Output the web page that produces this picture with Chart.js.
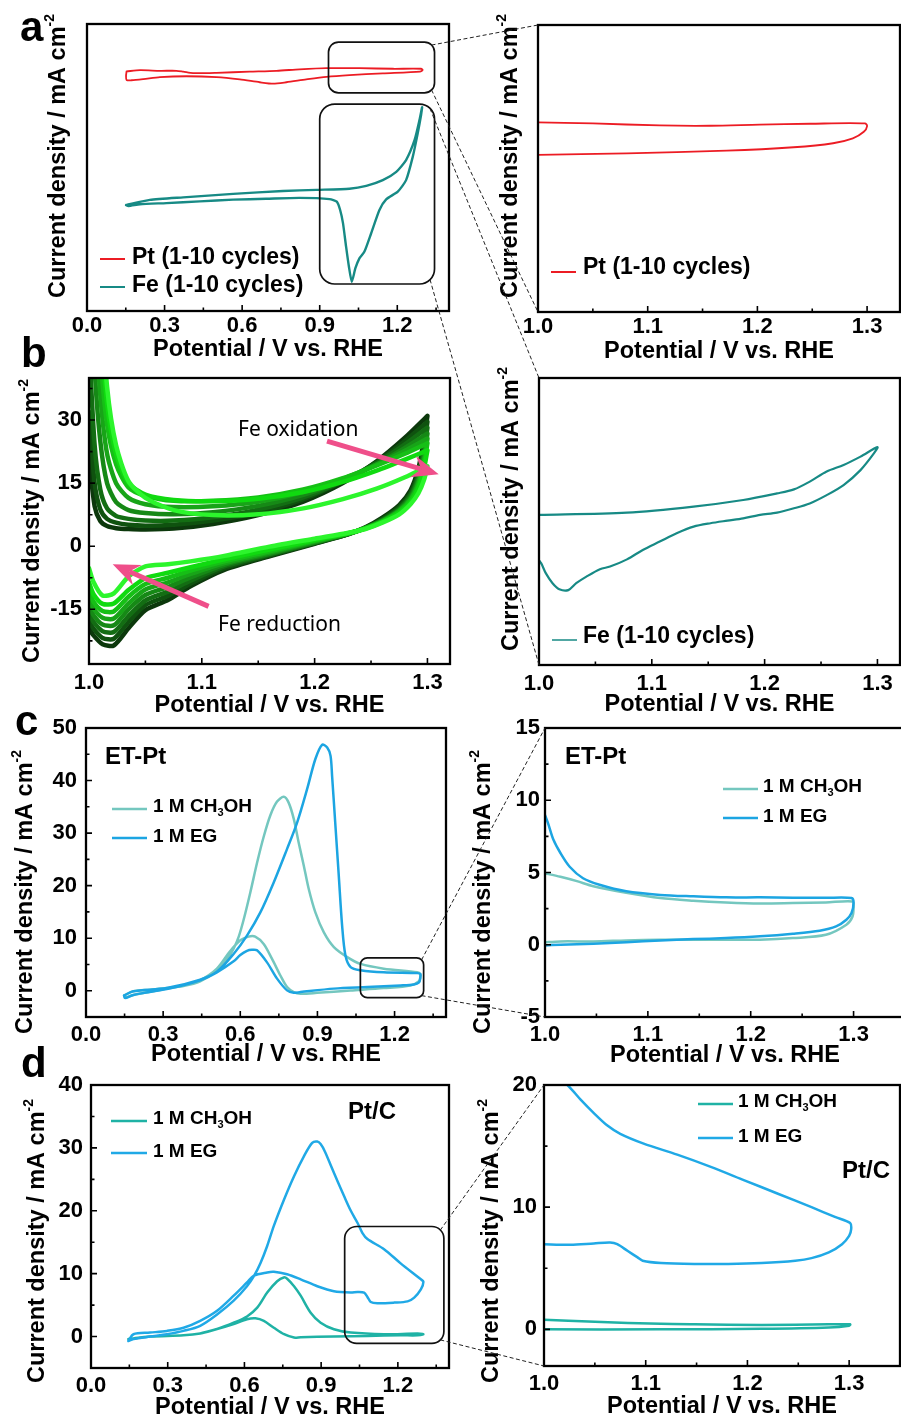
<!DOCTYPE html>
<html><head><meta charset="utf-8">
<script src="https://cdn.jsdelivr.net/npm/chart.js@4.4.1/dist/chart.umd.min.js"></script>
<style>
html,body{margin:0;padding:0;background:#fff;overflow:hidden;width:901px;height:1421px;position:relative;}
canvas{position:absolute;left:0;top:0;}
</style></head><body>
<canvas id="cA1" width="920" height="1421"></canvas>
<canvas id="cA2" width="920" height="1421"></canvas>
<canvas id="cB1" width="920" height="1421"></canvas>
<canvas id="cB2" width="920" height="1421"></canvas>
<canvas id="cC1" width="920" height="1421"></canvas>
<canvas id="cC2" width="920" height="1421"></canvas>
<canvas id="cD1" width="920" height="1421"></canvas>
<canvas id="cD2" width="920" height="1421"></canvas>
<canvas id="overlay" width="920" height="1421"></canvas>
<script>
// ---------------- DATA ----------------
// Panel a (left): CVs, arbitrary current units (no y tick labels)
const aPtV = [0.153,0.205,0.282,0.346,0.372,0.41,0.501,0.629,0.733,0.822,0.926,1.054,1.183,1.292,1.298,1.288,1.144,1.015,0.926,0.848,0.771,0.72,0.668,0.591,0.501,0.385,0.282,0.218,0.172,0.153,0.151,0.153];
const aPtJ = [83.5,83.9,83.7,83.7,83.4,82.9,83.0,83.4,83.7,84.2,84.6,84.6,84.4,84.4,84.0,83.4,82.8,82.2,81.6,80.7,79.7,79.2,79.7,80.7,81.5,81.8,81.5,80.8,80.4,80.5,81.9,83.5];
const aFeV = [0.151,0.243,0.372,0.565,0.758,0.887,1.015,1.080,1.144,1.196,1.234,1.267,1.286,1.296,1.292,1.279,1.260,1.234,1.202,1.157,1.131,1.099,1.073,1.054,1.038,1.024,1.013,1.002,0.990,0.979,0.966,0.938,0.822,0.693,0.565,0.436,0.307,0.205,0.160,0.151];
const aFeJ = [36.9,38.7,39.6,40.8,41.8,42.2,42.6,43.6,45.6,48.5,52.6,59.6,66.6,71.0,68.3,61.9,53.8,45.6,41.6,38.9,35.2,27.1,20.7,18.4,14.9,10.2,15.4,22.4,30.6,35.2,38.1,39.0,39.4,39.1,38.8,38.2,37.6,37.2,36.6,36.9];
// Panel a (right): Pt zoom
const aZPtV = [0.998,1.081,1.172,1.233,1.269,1.287,1.297,1.300,1.298,1.248,1.202,1.157,1.111,1.050,0.998];
const aZPtJ = [54.7,55.3,56.2,57.4,58.8,60.5,62.8,64.8,65.7,65.6,65.3,64.9,65.0,65.7,66.1];
// Panel b (right): Fe zoom
const bZFeV = [0.998,1.078,1.137,1.181,1.211,1.226,1.240,1.255,1.270,1.285,1.300,1.297,1.285,1.270,1.255,1.240,1.226,1.211,1.196,1.181,1.167,1.152,1.137,1.122,1.107,1.092,1.078,1.063,1.054,1.042,1.033,1.026,1.018,1.012,1.006,1.002,0.998];
const bZFeJ = [52.3,53.1,55.2,57.5,59.8,61.2,63.9,67.4,69.7,72.6,75.9,73.8,67.9,62.7,59.2,56.3,54.6,53.1,52.3,51.1,50.3,49.4,48.2,45.9,43.0,40.1,36.8,34.3,33.4,30.8,28.5,26.1,26.4,28.5,32.0,35.4,37.6];
// Panel b (left): multi-cycle CVs (dark = early cycles, bright = late cycles)
const bFwdV = [1.000,1.005,1.010,1.016,1.024,1.035,1.05,1.075,1.11,1.15,1.19,1.225,1.255,1.28,1.30];
const bRevV = [1.30,1.297,1.292,1.285,1.275,1.26,1.245,1.23,1.20,1.16,1.12,1.09,1.07,1.05,1.035,1.022,1.012,1.004,1.000];
const bFwdJ = [
  [21,9.5,6.0,4.8,4.3,4.1,4.0,4.2,5.3,7.4,10.6,15.0,20.2,25.8,31.0],
  [32,15,8.8,6.5,5.6,5.1,4.9,5.1,6.1,8.0,11.2,15.4,20.0,25.0,29.6],
  [48,24,13.5,9.0,7.2,6.5,6.1,6.1,6.9,8.7,11.6,15.5,19.8,24.2,28.2],
  [70,42,25,15,10.5,8.6,7.9,7.6,8.1,9.6,12.2,15.7,19.5,23.4,26.8],
  [90,58,36,22,15,11.5,10,9.3,9.5,10.6,12.9,16.0,19.4,22.7,25.6],
  [110,72,46,29,19.5,14,12,10.8,10.8,11.6,13.5,16.2,19.2,22.0,24.5],
  [125,85,55,34,22,15,12.3,11.0,10.7,11.3,12.9,15.3,18.0,20.6,22.8],
  [140,95,62,38,24,15.5,11.5,8.6,7.4,7.6,9.0,11.2,13.7,16.4,19.0]
];
const bRevJ = [
  [31.0,25.5,18.5,13.3,9.8,6.8,4.5,2.9,0.6,-2.4,-5.6,-9.5,-12.8,-15.2,-19.5,-23.6,-23.3,-21.2,-19.5],
  [29.6,24.2,17.6,12.7,9.4,6.5,4.4,2.9,0.7,-2.2,-5.2,-8.9,-11.8,-14.0,-18.0,-22.0,-21.8,-19.6,-17.8],
  [28.2,23.0,16.8,12.2,9.0,6.3,4.3,2.9,0.8,-2.0,-4.8,-8.2,-10.8,-12.9,-16.6,-20.4,-20.2,-18.0,-16.0],
  [26.8,21.8,16.0,11.7,8.7,6.1,4.3,3.0,0.9,-1.8,-4.4,-7.4,-9.7,-11.6,-15.0,-18.8,-18.6,-16.4,-14.2],
  [25.6,20.8,15.3,11.3,8.5,6.0,4.3,3.0,1.1,-1.5,-4.0,-6.6,-8.6,-10.3,-13.6,-17.2,-17.0,-14.8,-12.5],
  [24.5,19.8,14.7,11.0,8.3,5.9,4.3,3.1,1.3,-1.2,-3.6,-5.8,-7.5,-9.0,-12.0,-15.5,-15.4,-13.2,-10.6],
  [22.8,18.5,13.8,10.4,8.0,5.8,4.2,3.1,1.5,-0.8,-3.1,-5.0,-6.3,-7.6,-10.4,-13.6,-13.7,-11.4,-8.6],
  [19.0,15.8,12.6,10.0,7.6,5.6,4.1,3.2,1.8,-0.1,-2.3,-3.6,-4.3,-4.8,-7.2,-11.2,-11.7,-8.5,-5.2]
];
const bCycleColors = ['#0c380c','#0f520f','#136d13','#168916','#18a418','#16bf16','#10da10','#2cf52c'];
// Panel c (left): ET-Pt
const cMeV = [0.148,0.184,0.249,0.314,0.379,0.444,0.509,0.548,0.574,0.594,0.613,0.639,0.665,0.691,0.717,0.743,0.769,0.788,0.808,0.827,0.847,0.866,0.892,0.925,0.964,1.016,1.068,1.158,1.288,1.300,1.300,1.295,1.262,1.158,1.029,0.899,0.834,0.808,0.782,0.756,0.723,0.691,0.658,0.632,0.600,0.560,0.509,0.444,0.379,0.314,0.249,0.184,0.152,0.148];
const cMeJ = [-0.9,-0.1,0.2,0.5,0.9,1.8,3.8,5.9,8.0,10.3,13.5,18.7,24.3,29.3,33.4,36.0,36.9,35.8,32.7,28.2,23.8,19.4,14.9,11.1,8.3,6.4,5.1,4.2,3.5,3.2,2.6,1.8,1.0,0.5,0.06,-0.4,-0.57,-0.25,0.7,2.9,6.1,8.9,10.3,10.3,9.6,7.5,4.2,2.0,1.0,0.4,-0.2,-0.8,-1.3,-0.9];
const cEgV = [0.148,0.184,0.314,0.444,0.509,0.574,0.626,0.678,0.730,0.782,0.821,0.860,0.892,0.918,0.938,0.951,0.957,0.970,0.983,0.996,1.009,1.029,1.068,1.158,1.288,1.300,1.300,1.295,1.275,1.223,1.094,0.964,0.834,0.808,0.782,0.743,0.704,0.665,0.645,0.626,0.600,0.574,0.509,0.444,0.314,0.184,0.152,0.148];
const cEgJ = [-0.9,-0.1,0.5,2.1,3.6,7.0,10.5,14.9,20.6,27.0,32.0,38.4,44.1,46.8,46.3,44.7,40.9,31.4,21.9,12.4,6.7,4.5,3.9,3.5,3.35,3.2,2.4,1.6,1.2,1.0,0.7,0.4,-0.25,-0.4,0.06,2.3,5.4,7.7,7.8,7.6,6.8,5.6,3.5,2.0,0.3,-0.8,-1.4,-0.9];
// Panel c (right): zoom
const cZMeV = [0.998,1.015,1.031,1.047,1.079,1.112,1.144,1.176,1.209,1.241,1.273,1.299,1.300,1.299,1.293,1.273,1.241,1.209,1.176,1.144,1.112,1.079,1.047,1.015,0.998];
const cZMeJ = [4.97,4.7,4.4,4.05,3.6,3.23,3.05,2.93,2.86,2.89,2.93,3.0,2.66,1.96,1.39,0.69,0.46,0.35,0.35,0.35,0.35,0.3,0.23,0.23,0.16];
const cZEgV = [0.998,1.003,1.008,1.015,1.024,1.037,1.053,1.079,1.112,1.144,1.176,1.209,1.241,1.273,1.298,1.300,1.298,1.293,1.283,1.267,1.241,1.209,1.176,1.144,1.112,1.079,1.047,1.015,0.998];
const cZEgJ = [9.35,8.4,7.3,6.35,5.4,4.6,4.15,3.7,3.45,3.35,3.28,3.28,3.26,3.25,3.23,2.9,2.2,1.73,1.27,0.97,0.76,0.58,0.46,0.39,0.3,0.18,0.07,0.0,-0.05];
// Panel d (left): Pt/C
const dMeV = [0.146,0.231,0.362,0.427,0.493,0.558,0.610,0.650,0.689,0.728,0.754,0.767,0.794,0.820,0.859,0.898,0.950,1.016,1.146,1.277,1.300,1.277,1.212,1.081,0.950,0.820,0.794,0.755,0.715,0.676,0.643,0.610,0.558,0.493,0.427,0.362,0.231,0.166,0.146];
const dMeJ = [-0.4,0.0,0.2,0.5,1.2,2.2,3.2,4.6,7.0,8.8,9.4,9.2,8.0,6.5,3.8,2.2,1.16,0.63,0.37,0.48,0.37,0.2,0.2,0.1,0.0,-0.1,-0.16,0.37,1.4,2.5,2.9,2.75,2.0,1.2,0.5,0.2,0.0,-0.3,-0.4];
const dEgV = [0.146,0.166,0.231,0.297,0.362,0.427,0.493,0.558,0.610,0.637,0.663,0.689,0.715,0.755,0.794,0.833,0.865,0.885,0.898,0.915,0.940,0.965,0.990,1.016,1.042,1.061,1.081,1.146,1.212,1.290,1.300,1.290,1.264,1.238,1.186,1.120,1.094,1.081,1.068,1.042,1.016,0.950,0.885,0.820,0.767,0.715,0.689,0.637,0.610,0.558,0.493,0.427,0.362,0.297,0.231,0.166,0.146];
const dEgJ = [-0.7,-0.4,0.0,0.37,0.9,1.7,3.5,5.7,8.0,9.6,11.7,14.4,17.6,21.8,25.5,28.7,30.8,31.0,30.6,29.4,27.0,24.6,22.3,20.0,18.1,16.5,15.5,13.9,11.6,9.1,8.7,7.5,6.2,5.6,5.4,5.3,5.5,6.3,7.0,7.1,7.0,7.2,8.0,9.1,9.9,10.3,10.2,9.7,8.6,6.5,4.1,2.5,1.4,0.9,0.63,0.37,-0.7];
// Panel d (right): zoom
const dZEgV = [1.0,1.023,1.036,1.049,1.062,1.075,1.098,1.131,1.164,1.197,1.23,1.263,1.286,1.301,1.302,1.300,1.293,1.28,1.263,1.247,1.214,1.181,1.148,1.115,1.097,1.092,1.082,1.072,1.065,1.049,1.026,0.998];
const dZEgJ = [21.5,20,18.8,17.7,16.7,16.0,15.2,14.3,13.3,12.2,11.1,10.0,9.2,8.7,8.2,7.65,6.97,6.3,5.83,5.62,5.43,5.35,5.35,5.43,5.62,5.89,6.43,6.97,7.1,7.03,6.92,6.97];
const dZMeV = [0.998,1.05,1.115,1.148,1.214,1.28,1.301,1.300,1.28,1.214,1.115,0.998];
const dZMeJ = [0.79,0.62,0.45,0.41,0.36,0.41,0.41,0.3,0.15,0.04,0.0,0.0];

// Tick values
const xTicksWide = [0,0.3,0.6,0.9,1.2];
const xMinorWide = [0.15,0.45,0.75,1.05,1.35];
const xTicksZoom = [1.0,1.1,1.2,1.3];
const xMinorZoom = [1.05,1.15,1.25];
const bYTicks = [-15,0,15,30];
const bYMinor = [-22.5,-7.5,7.5,22.5,37.5];
const cYTicks = [0,10,20,30,40,50];
const cYMinor = [5,15,25,35,45];
const cZYTicks = [-5,0,5,10,15];
const cZYMinor = [-2.5,2.5,7.5,12.5];
const dYTicks = [0,10,20,30,40];
const dYMinor = [5,15,25,35];
const dZYTicks = [0,10,20];
const dZYMinor = [5,15];

// ---------------- RENDERING ----------------
const CW = 920, CH = 1421;
const FONT = '"Liberation Sans", Arial, Helvetica, sans-serif';
const TITLE_SIZE = 23.5;
const pts = (V, J) => V.map((v, i) => ({x: v, y: J[i]}));
const Y_TITLE = [{t:'Current density / mA cm'},{t:'-2',s:'sup'}];
const RED = '#ec1c24', TEAL = '#178a85';
const C_ME = '#74c7bf', C_EG = '#1ca5e2', D_ME = '#1fb2a5', D_EG = '#20a9e6';

function richWidth(ctx, parts, size, weight, family){
  let w = 0;
  parts.forEach(p => { const fs = p.s ? Math.round(size*0.6) : size; ctx.font = `${weight} ${fs}px ${family}`; w += ctx.measureText(p.t).width; });
  return w;
}
function drawRich(ctx, parts, x, y, size, weight, family, align){
  const w = richWidth(ctx, parts, size, weight, family);
  let cx = align === 'center' ? x - w/2 : x;
  ctx.textBaseline = 'middle'; ctx.textAlign = 'left';
  parts.forEach(p => {
    const fs = p.s ? Math.round(size*0.6) : size;
    ctx.font = `${weight} ${fs}px ${family}`;
    const dy = p.s === 'sub' ? size*0.32 : (p.s === 'sup' ? -size*0.38 : 0);
    ctx.fillText(p.t, cx, y + dy);
    cx += ctx.measureText(p.t).width;
  });
}
function roundRectPath(ctx, x0, y0, x1, y1, r){
  ctx.beginPath();
  ctx.moveTo(x0 + r, y0);
  ctx.arcTo(x1, y0, x1, y1, r);
  ctx.arcTo(x1, y1, x0, y1, r);
  ctx.arcTo(x0, y1, x0, y0, r);
  ctx.arcTo(x0, y0, x1, y0, r);
  ctx.closePath();
}

const framePlugin = {
  id: 'frame',
  afterDatasetsDraw(chart){
    const o = chart.options.plugins.frame || {};
    const a = chart.chartArea, ctx = chart.ctx, xs = chart.scales.x, ys = chart.scales.y;
    ctx.save();
    ctx.strokeStyle = '#000';
    ctx.lineWidth = 1.6;
    ctx.beginPath();
    const tick = (vals, len, axis) => (vals || []).forEach(v => {
      if (axis === 'x') { const p = xs.getPixelForValue(v); ctx.moveTo(p, a.bottom); ctx.lineTo(p, a.bottom - len); }
      else { const p = ys.getPixelForValue(v); ctx.moveTo(a.left, p); ctx.lineTo(a.left + len, p); }
    });
    tick(o.xMajor, 6, 'x'); tick(o.xMinor, 3.5, 'x'); tick(o.yMajor, 6, 'y'); tick(o.yMinor, 3.5, 'y');
    ctx.stroke();
    ctx.lineWidth = 2.3;
    ctx.strokeRect(a.left, a.top, a.right - a.left, a.bottom - a.top);
    ctx.restore();
  }
};

const decoPlugin = {
  id: 'deco',
  afterDraw(chart){
    const o = chart.options.plugins.deco || {};
    const ctx = chart.ctx, xs = chart.scales.x, ys = chart.scales.y;
    ctx.save();
    ctx.fillStyle = '#000';
    chart.$boxes = [];
    (o.boxes || []).forEach(b => {
      const x0 = xs.getPixelForValue(b.x0), x1 = xs.getPixelForValue(b.x1);
      const y0 = ys.getPixelForValue(b.y1), y1 = ys.getPixelForValue(b.y0);
      chart.$boxes.push({x0, x1, y0, y1, r: b.r});
      ctx.strokeStyle = '#111'; ctx.lineWidth = 1.7;
      roundRectPath(ctx, x0, y0, x1, y1, b.r); ctx.stroke();
    });
    (o.arrows || []).forEach(ar => {
      const x0 = xs.getPixelForValue(ar.from[0]), y0 = ys.getPixelForValue(ar.from[1]);
      const x1 = xs.getPixelForValue(ar.to[0]), y1 = ys.getPixelForValue(ar.to[1]);
      const ang = Math.atan2(y1 - y0, x1 - x0), hl = 24, hw = 11;
      const bx = x1 - hl*Math.cos(ang), by = y1 - hl*Math.sin(ang);
      ctx.strokeStyle = ar.color; ctx.fillStyle = ar.color; ctx.lineWidth = 5;
      ctx.beginPath(); ctx.moveTo(x0, y0); ctx.lineTo(bx + 6*Math.cos(ang), by + 6*Math.sin(ang)); ctx.stroke();
      ctx.beginPath();
      ctx.moveTo(x1, y1);
      ctx.lineTo(bx + hw*Math.sin(ang) - 3*Math.cos(ang), by - hw*Math.cos(ang) - 3*Math.sin(ang));
      ctx.lineTo(bx + 6*Math.cos(ang), by + 6*Math.sin(ang));
      ctx.lineTo(bx - hw*Math.sin(ang) - 3*Math.cos(ang), by + hw*Math.cos(ang) - 3*Math.sin(ang));
      ctx.closePath(); ctx.fill();
    });
    (o.legend || []).forEach(l => {
      const ds = chart.data.datasets[l.ds];
      ctx.strokeStyle = ds.borderColor; ctx.lineWidth = l.lw || 2;
      ctx.beginPath(); ctx.moveTo(l.x1, l.y); ctx.lineTo(l.x2, l.y); ctx.stroke();
      ctx.fillStyle = '#000';
      drawRich(ctx, l.parts, l.tx, l.ty, l.size, 'bold', FONT, 'left');
    });
    (o.labels || []).forEach(t => {
      ctx.fillStyle = '#000';
      ctx.font = t.font; ctx.textAlign = 'left'; ctx.textBaseline = t.baseline || 'middle';
      ctx.fillText(t.text, t.x, t.y);
    });
    if (o.yTitle) {
      ctx.fillStyle = '#000';
      ctx.translate(o.yTitle.x, o.yTitle.y); ctx.rotate(-Math.PI/2);
      drawRich(ctx, Y_TITLE, 0, 0, TITLE_SIZE, 'bold', FONT, 'center');
    }
    ctx.restore();
  }
};

function makeChart(id, p){
  const lh = TITLE_SIZE*1.2;
  const yW = p.yTicks ? 45 : 0;
  const xH = p.xTitleY - p.B + lh/2;
  const tickFont = {family: FONT, size: 22, weight: 'bold'};
  const yScale = p.yTicks ? {
    type: 'linear', min: p.yMin, max: p.yMax,
    grid: {display: false, drawTicks: false}, border: {display: false},
    ticks: {padding: p.yPad, font: tickFont, color: '#000', autoSkip: false, callback: v => String(v)},
    afterBuildTicks: s => { s.ticks = p.yTicks.map(v => ({value: v})); },
    afterFit: s => { s.width = yW; },
    title: {display: false}
  } : {type: 'linear', min: p.yMin, max: p.yMax, display: false};
  const cfg = {
    type: 'scatter',
    data: {datasets: p.datasets.map(d => ({
      label: d.label, data: d.data, showLine: true, borderColor: d.color, backgroundColor: d.color,
      borderWidth: d.width || 2, pointRadius: 0, pointHoverRadius: 0, tension: d.tension ?? 0.3,
      fill: false, order: d.order ?? 0, borderJoinStyle: 'round', borderCapStyle: 'round'
    }))},
    options: {
      responsive: false, animation: false, devicePixelRatio: 1, events: [],
      layout: {padding: {left: p.L - yW, top: p.T, right: CW - p.R, bottom: CH - p.B - xH}},
      plugins: {
        legend: {display: false}, tooltip: {enabled: false},
        frame: {xMajor: p.xTicks, xMinor: p.xMinor, yMajor: p.yTicks, yMinor: p.yMinor},
        deco: p.deco || {}
      },
      scales: {
        x: {
          type: 'linear', min: p.xMin, max: p.xMax,
          grid: {display: false, drawTicks: false}, border: {display: false},
          ticks: {padding: p.xPad, font: tickFont, color: '#000', autoSkip: false, maxRotation: 0, callback: v => v.toFixed(1)},
          afterBuildTicks: s => { s.ticks = p.xTicks.map(v => ({value: v})); },
          afterFit: s => { s.height = xH; },
          title: {display: true, text: 'Potential / V vs. RHE', font: {family: FONT, size: TITLE_SIZE, weight: 'bold'}, color: '#000', padding: 0}
        },
        y: yScale
      }
    },
    plugins: [framePlugin, decoPlugin]
  };
  return new Chart(document.getElementById(id), cfg);
}

const panelFont = `bold 42px ${FONT}`;

const chA1 = makeChart('cA1', {
  L: 87, T: 24, R: 449, B: 311, xMin: 0, xMax: 1.4, yMin: 0, yMax: 100,
  xTicks: xTicksWide, xMinor: xMinorWide, xPad: 2, xTitleY: 350,
  datasets: [
    {label: 'Pt (1-10 cycles)', data: pts(aPtV, aPtJ), color: RED, width: 1.8, tension: 0.25},
    {label: 'Fe (1-10 cycles)', data: pts(aFeV, aFeJ), color: TEAL, width: 2.4, tension: 0.2}
  ],
  deco: {
    yTitle: {x: 59, y: 156},
    boxes: [{x0: 0.934, x1: 1.344, y0: 76.0, y1: 93.7, r: 10}, {x0: 0.900, x1: 1.344, y0: 9.4, y1: 72.1, r: 15}],
    legend: [
      {ds: 0, x1: 100, x2: 125, y: 259, tx: 132, ty: 258, size: 23, parts: [{t: 'Pt (1-10 cycles)'}]},
      {ds: 1, x1: 100, x2: 125, y: 287, tx: 132, ty: 286, size: 23, parts: [{t: 'Fe (1-10 cycles)'}]}
    ],
    labels: [{text: 'a', x: 20, y: 41, font: panelFont, baseline: 'alphabetic'}]
  }
});

const chA2 = makeChart('cA2', {
  L: 538, T: 25, R: 900, B: 312, xMin: 1.0, xMax: 1.33, yMin: 0, yMax: 100,
  xTicks: xTicksZoom, xMinor: xMinorZoom, xPad: 2, xTitleY: 352,
  datasets: [{label: 'Pt (1-10 cycles)', data: pts(aZPtV, aZPtJ), color: RED, width: 1.8, tension: 0.3}],
  deco: {
    yTitle: {x: 511, y: 156},
    legend: [{ds: 0, x1: 551, x2: 576, y: 272, tx: 583, ty: 268, size: 23, parts: [{t: 'Pt (1-10 cycles)'}]}]
  }
});

const bDatasets = bFwdJ.map((fw, k) => ({
  label: 'cycle ' + (k + 1),
  data: pts(bFwdV, fw).concat(pts(bRevV, bRevJ[k])),
  color: bCycleColors[k], width: 4.5, tension: 0.25, order: bFwdJ.length - 1 - k
}));

const chB1 = makeChart('cB1', {
  L: 89, T: 378, R: 450, B: 664, xMin: 1.0, xMax: 1.32, yMin: -28, yMax: 40,
  xTicks: xTicksZoom, xMinor: xMinorZoom, xPad: 6, xTitleY: 706,
  yTicks: bYTicks, yMinor: bYMinor, yPad: 7,
  datasets: bDatasets,
  deco: {
    yTitle: {x: 33, y: 521},
    arrows: [
      {from: [1.211, 25.0], to: [1.310, 17.1], color: '#ef4f8a'},
      {from: [1.106, -14.3], to: [1.021, -4.3], color: '#ef4f8a'}
    ],
    labels: [
      {text: 'b', x: 21, y: 367, font: panelFont, baseline: 'alphabetic'},
      {text: 'Fe oxidation', x: 238, y: 430, font: '21px "Noto Sans", "Open Sans", sans-serif'},
      {text: 'Fe reduction', x: 218, y: 625, font: '21px "Noto Sans", "Open Sans", sans-serif'}
    ]
  }
});

const chB2 = makeChart('cB2', {
  L: 539, T: 378, R: 900, B: 665, xMin: 1.0, xMax: 1.32, yMin: 0, yMax: 100,
  xTicks: xTicksZoom, xMinor: xMinorZoom, xPad: 6, xTitleY: 705,
  datasets: [{label: 'Fe (1-10 cycles)', data: pts(bZFeV, bZFeJ), color: TEAL, width: 2.2, tension: 0.3}],
  deco: {
    yTitle: {x: 512, y: 509},
    legend: [{ds: 0, x1: 552, x2: 577, y: 640, tx: 583, ty: 637, size: 23, lw: 1.5, parts: [{t: 'Fe (1-10 cycles)'}]}]
  }
});

const ME_PARTS = [{t: '1 M CH'}, {t: '3', s: 'sub'}, {t: 'OH'}];
const EG_PARTS = [{t: '1 M EG'}];

const chC1 = makeChart('cC1', {
  L: 86, T: 728, R: 446, B: 1017, xMin: 0, xMax: 1.4, yMin: -5, yMax: 50,
  xTicks: xTicksWide, xMinor: xMinorWide, xPad: 5, xTitleY: 1055,
  yTicks: cYTicks, yMinor: cYMinor, yPad: 9,
  datasets: [
    {label: '1 M CH3OH', data: pts(cMeV, cMeJ), color: C_ME, width: 2.5, tension: 0.3, order: 1},
    {label: '1 M EG', data: pts(cEgV, cEgJ), color: C_EG, width: 2.5, tension: 0.3, order: 0}
  ],
  deco: {
    yTitle: {x: 26, y: 892},
    boxes: [{x0: 1.067, x1: 1.313, y0: -1.33, y1: 6.26, r: 7}],
    legend: [
      {ds: 0, x1: 112, x2: 147, y: 809, tx: 153, ty: 807, size: 19, lw: 2.5, parts: ME_PARTS},
      {ds: 1, x1: 112, x2: 147, y: 838, tx: 153, ty: 837, size: 19, lw: 2.5, parts: EG_PARTS}
    ],
    labels: [
      {text: 'c', x: 15, y: 735, font: panelFont, baseline: 'alphabetic'},
      {text: 'ET-Pt', x: 105, y: 757, font: `bold 24px ${FONT}`}
    ]
  }
});

const chC2 = makeChart('cC2', {
  L: 545, T: 728, R: 905, B: 1017, xMin: 1.0, xMax: 1.35, yMin: -5, yMax: 15,
  xTicks: xTicksZoom, xMinor: xMinorZoom, xPad: 5, xTitleY: 1056,
  yTicks: cZYTicks, yMinor: cZYMinor, yPad: 5,
  datasets: [
    {label: '1 M CH3OH', data: pts(cZMeV, cZMeJ), color: C_ME, width: 2.5, tension: 0.3, order: 1},
    {label: '1 M EG', data: pts(cZEgV, cZEgJ), color: C_EG, width: 2.5, tension: 0.3, order: 0}
  ],
  deco: {
    yTitle: {x: 484, y: 892},
    legend: [
      {ds: 0, x1: 723, x2: 758, y: 789, tx: 763, ty: 787, size: 19, lw: 2.5, parts: ME_PARTS},
      {ds: 1, x1: 723, x2: 758, y: 818, tx: 763, ty: 817, size: 19, lw: 2.5, parts: EG_PARTS}
    ],
    labels: [{text: 'ET-Pt', x: 565, y: 757, font: `bold 24px ${FONT}`}]
  }
});

const chD1 = makeChart('cD1', {
  L: 91, T: 1085, R: 449, B: 1368, xMin: 0, xMax: 1.4, yMin: -5, yMax: 40,
  xTicks: xTicksWide, xMinor: xMinorWide, xPad: 5, xTitleY: 1408,
  yTicks: dYTicks, yMinor: dYMinor, yPad: 8,
  datasets: [
    {label: '1 M CH3OH', data: pts(dMeV, dMeJ), color: D_ME, width: 2.5, tension: 0.3, order: 1},
    {label: '1 M EG', data: pts(dEgV, dEgJ), color: D_EG, width: 2.5, tension: 0.3, order: 0}
  ],
  deco: {
    yTitle: {x: 38, y: 1241},
    boxes: [{x0: 0.992, x1: 1.380, y0: -1.1, y1: 17.5, r: 12}],
    legend: [
      {ds: 0, x1: 111, x2: 147, y: 1121, tx: 153, ty: 1119, size: 19, lw: 2.5, parts: ME_PARTS},
      {ds: 1, x1: 111, x2: 147, y: 1153, tx: 153, ty: 1152, size: 19, lw: 2.5, parts: EG_PARTS}
    ],
    labels: [
      {text: 'd', x: 21, y: 1077, font: panelFont, baseline: 'alphabetic'},
      {text: 'Pt/C', x: 348, y: 1112, font: `bold 24px ${FONT}`}
    ]
  }
});

const chD2 = makeChart('cD2', {
  L: 544, T: 1085, R: 900, B: 1366, xMin: 1.0, xMax: 1.35, yMin: -3, yMax: 20,
  xTicks: xTicksZoom, xMinor: xMinorZoom, xPad: 5, xTitleY: 1407,
  yTicks: dZYTicks, yMinor: dZYMinor, yPad: 7,
  datasets: [
    {label: '1 M CH3OH', data: pts(dZMeV, dZMeJ), color: D_ME, width: 2.5, tension: 0.3, order: 1},
    {label: '1 M EG', data: pts(dZEgV, dZEgJ), color: D_EG, width: 2.5, tension: 0.3, order: 0}
  ],
  deco: {
    yTitle: {x: 492, y: 1241},
    legend: [
      {ds: 0, x1: 698, x2: 733, y: 1104, tx: 738, ty: 1102, size: 19, lw: 2.5, parts: ME_PARTS},
      {ds: 1, x1: 698, x2: 733, y: 1138, tx: 738, ty: 1137, size: 19, lw: 2.5, parts: EG_PARTS}
    ],
    labels: [{text: 'Pt/C', x: 842, y: 1171, font: `bold 24px ${FONT}`}]
  }
});

// ---- dashed zoom connectors between panels ----
(function(){
  const ov = document.getElementById('overlay').getContext('2d');
  ov.save();
  ov.strokeStyle = '#222'; ov.lineWidth = 1; ov.setLineDash([4, 2.5]);
  const corner = (chart, bi, c) => {
    const b = chart.$boxes[bi]; const k = b.r * 0.3;
    if (c === 'tr') return [b.x1 - k, b.y0 + k];
    return [b.x1 - k, b.y1 - k];
  };
  const area = (chart, c) => {
    const a = chart.chartArea;
    return c === 'tl' ? [a.left, a.top] : [a.left, a.bottom];
  };
  const links = [
    [chA1, 0, 'tr', chA2, 'tl'], [chA1, 0, 'br', chA2, 'bl'],
    [chA1, 1, 'tr', chB2, 'tl'], [chA1, 1, 'br', chB2, 'bl'],
    [chC1, 0, 'tr', chC2, 'tl'], [chC1, 0, 'br', chC2, 'bl'],
    [chD1, 0, 'tr', chD2, 'tl'], [chD1, 0, 'br', chD2, 'bl']
  ];
  links.forEach(([c1, bi, cc, c2, ac]) => {
    const p = corner(c1, bi, cc), q = area(c2, ac);
    ov.beginPath(); ov.moveTo(p[0], p[1]); ov.lineTo(q[0], q[1]); ov.stroke();
  });
  ov.restore();
})();
</script>
</body></html>
